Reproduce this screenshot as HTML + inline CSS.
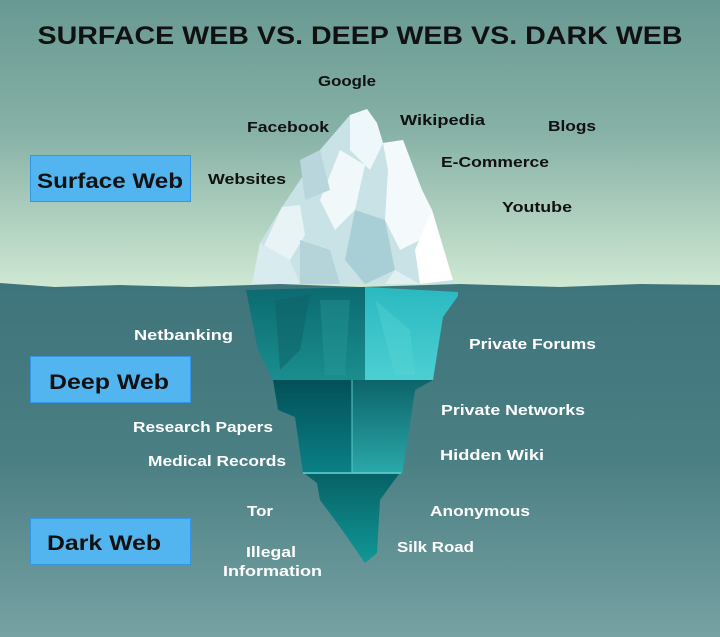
<!DOCTYPE html>
<html><head><meta charset="utf-8"><style>html,body{margin:0;padding:0}svg{display:block}</style></head>
<body>
<svg width="720" height="637" viewBox="0 0 720 637" xmlns="http://www.w3.org/2000/svg" font-family="Liberation Sans, sans-serif" font-weight="bold">
<defs>
<linearGradient id="sky" x1="0" y1="0" x2="0" y2="1"><stop offset="0" stop-color="#689993"/><stop offset="0.45" stop-color="#86b1a6"/><stop offset="1" stop-color="#d0e9d3"/></linearGradient>
<linearGradient id="sea" x1="0" y1="0" x2="0" y2="1"><stop offset="0" stop-color="#3e747b"/><stop offset="0.5" stop-color="#4a7f83"/><stop offset="1" stop-color="#77a2a3"/></linearGradient>
<linearGradient id="s1" x1="0" y1="0" x2="0" y2="1"><stop offset="0" stop-color="#0b6a70"/><stop offset="1" stop-color="#1a8e8e"/></linearGradient>
<linearGradient id="s1r" x1="0" y1="0" x2="0" y2="1"><stop offset="0" stop-color="#2ab9c0"/><stop offset="1" stop-color="#4ccfd2"/></linearGradient>
<linearGradient id="s2" x1="0" y1="0" x2="0" y2="1"><stop offset="0" stop-color="#035058"/><stop offset="1" stop-color="#0a8086"/></linearGradient>
<linearGradient id="s2r" x1="0" y1="0" x2="0" y2="1"><stop offset="0" stop-color="#0c6469"/><stop offset="1" stop-color="#2aa8aa"/></linearGradient>
<linearGradient id="s3" x1="0" y1="0" x2="0" y2="1"><stop offset="0" stop-color="#066266"/><stop offset="1" stop-color="#129796"/></linearGradient>
</defs>
<rect width="720" height="290" fill="url(#sky)"/>
<path d="M0 283 L55 287 L120 285 L190 287 L280 284 L360 287 L460 284 L560 287 L640 284 L720 285 L720 637 L0 637 Z" fill="url(#sea)"/>
<!-- above water iceberg -->
<polygon points="367,109 350,115 320,150 307,170 282,207 260,243 252,284 456,284 453,280 432,210 422,190 403,140 383,143 377,123" fill="#c9e2e6"/>
<polygon points="367,109 377,123 383,143 370,170 350,150 350,115" fill="#eef7f9"/>
<polygon points="383,143 403,140 422,190 432,210 420,240 400,250 385,220 388,170" fill="#f4fafb"/>
<polygon points="340,150 365,165 355,210 335,230 320,200" fill="#f0f8fa"/>
<polygon points="282,207 300,205 305,235 290,260 262,250" fill="#e8f3f5"/>
<polygon points="432,210 453,280 420,284 415,250" fill="#ffffff"/>
<polygon points="300,160 320,150 330,190 305,200" fill="#b8d6dc"/>
<polygon points="355,210 385,220 395,270 365,284 345,260" fill="#a9cfd6"/>
<polygon points="260,243 290,260 300,284 252,284" fill="#d8ebee"/>
<polygon points="300,240 330,250 340,284 300,284" fill="#b5d4da"/>
<polygon points="395,270 420,284 385,284" fill="#e0eff1"/>
<!-- underwater -->
<polygon points="246,290 365,287 365,380 273,380 258,350" fill="url(#s1)"/>
<polygon points="365,287 458,292 458,296 443,317 433,380 365,380" fill="url(#s1r)"/>
<polygon points="275,300 310,295 300,350 280,370" fill="#0e5f66" opacity="0.5"/>
<polygon points="320,300 350,300 345,375 325,375" fill="#2a9d9b" opacity="0.35"/>
<polygon points="375,300 410,330 415,375 395,375" fill="#5dd6d8" opacity="0.35"/>
<polygon points="273,380 352,380 352,473 303,473 295,417 278,410" fill="url(#s2)"/>
<polygon points="352,380 433,380 415,390 403,470 403,473 352,473" fill="url(#s2r)"/>
<line x1="352" y1="380" x2="352" y2="473" stroke="#5fc7c8" stroke-width="1"/>
<line x1="303" y1="473" x2="401" y2="473" stroke="#62cccd" stroke-width="1.5"/>
<polygon points="305,474 399,474 380,500 377,553 365,563 340,527 320,500 317,483" fill="url(#s3)"/>
<!-- title -->
<text x="360" y="44" text-anchor="middle" font-size="25" fill="#111" textLength="645" lengthAdjust="spacingAndGlyphs">SURFACE WEB VS. DEEP WEB VS. DARK WEB</text>
<!-- boxes -->
<rect x="30.5" y="155.5" width="160" height="46" fill="#53b5f0" stroke="#3596e6"/>
<rect x="30.5" y="356.5" width="160" height="46" fill="#53b5f0" stroke="#3596e6"/>
<rect x="30.5" y="518.5" width="160" height="46" fill="#53b5f0" stroke="#3596e6"/>
<text x="37" y="188" font-size="21" fill="#111" textLength="146" lengthAdjust="spacingAndGlyphs">Surface Web</text>
<text x="49" y="389" font-size="21" fill="#111" textLength="120" lengthAdjust="spacingAndGlyphs">Deep Web</text>
<text x="47" y="550" font-size="21" fill="#111" textLength="114" lengthAdjust="spacingAndGlyphs">Dark Web</text>
<!-- surface labels -->
<g font-size="15" fill="#111" lengthAdjust="spacingAndGlyphs">
<text x="318" y="86" textLength="58" lengthAdjust="spacingAndGlyphs">Google</text>
<text x="247" y="132" textLength="82" lengthAdjust="spacingAndGlyphs">Facebook</text>
<text x="400" y="125" textLength="85" lengthAdjust="spacingAndGlyphs">Wikipedia</text>
<text x="548" y="131" textLength="48" lengthAdjust="spacingAndGlyphs">Blogs</text>
<text x="441" y="167" textLength="108" lengthAdjust="spacingAndGlyphs">E-Commerce</text>
<text x="208" y="184" textLength="78" lengthAdjust="spacingAndGlyphs">Websites</text>
<text x="502" y="212" textLength="70" lengthAdjust="spacingAndGlyphs">Youtube</text>
</g>
<g font-size="15" fill="#fff">
<text x="134" y="340" textLength="99" lengthAdjust="spacingAndGlyphs">Netbanking</text>
<text x="469" y="349" textLength="127" lengthAdjust="spacingAndGlyphs">Private Forums</text>
<text x="441" y="415" textLength="144" lengthAdjust="spacingAndGlyphs">Private Networks</text>
<text x="133" y="432" textLength="140" lengthAdjust="spacingAndGlyphs">Research Papers</text>
<text x="440" y="460" textLength="104" lengthAdjust="spacingAndGlyphs">Hidden Wiki</text>
<text x="148" y="466" textLength="138" lengthAdjust="spacingAndGlyphs">Medical Records</text>
<text x="247" y="516" textLength="26" lengthAdjust="spacingAndGlyphs">Tor</text>
<text x="430" y="516" textLength="100" lengthAdjust="spacingAndGlyphs">Anonymous</text>
<text x="397" y="552" textLength="77" lengthAdjust="spacingAndGlyphs">Silk Road</text>
<text x="246" y="557" textLength="50" lengthAdjust="spacingAndGlyphs">Illegal</text>
<text x="223" y="576" textLength="99" lengthAdjust="spacingAndGlyphs">Information</text>
</g>
</svg>
</body></html>
